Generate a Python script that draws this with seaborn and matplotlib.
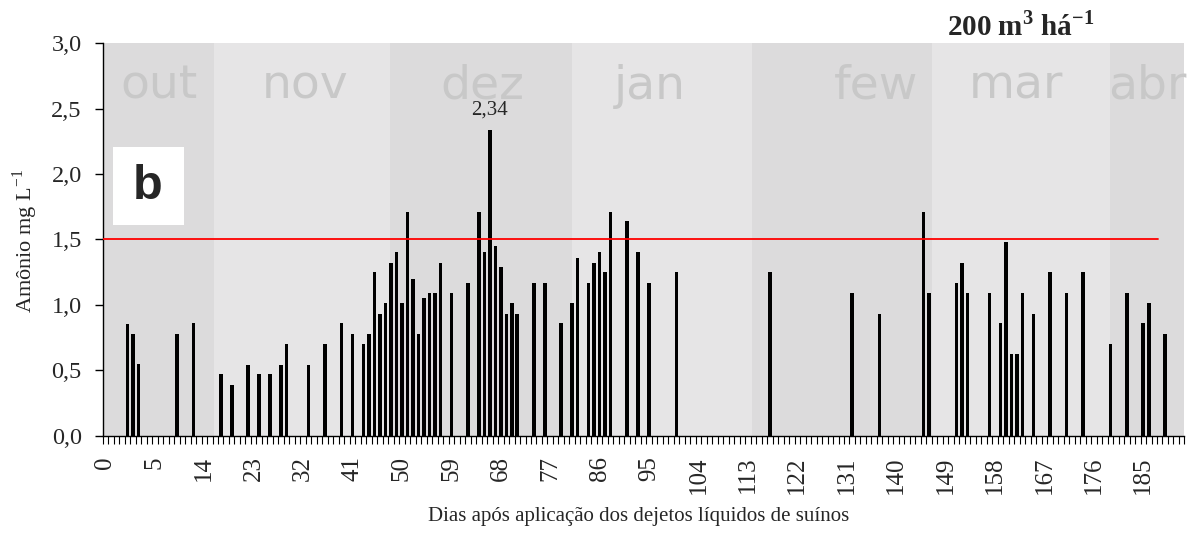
import numpy as np
import pandas as pd
import matplotlib
matplotlib.use("Agg")
import matplotlib.pyplot as plt
from matplotlib.ticker import FuncFormatter
import seaborn as sns

# Sampling slots along the category axis (first slot is -1, one slot per sampling date)
slot = [3, 4, 5, 12, 15, 20, 22, 25, 27, 29, 31, 32, 36, 39, 42, 44, 46, 47, 48, 49,
        50, 51, 52, 53, 54, 55, 56, 57, 58, 59, 60, 62, 65, 67, 68, 69, 70, 71, 72, 73,
        74, 77, 79, 82, 84, 85, 87, 88, 89, 90, 91, 94, 96, 98, 103, 120, 135, 140, 148, 149,
        154, 155, 156, 160, 162, 163, 164, 165, 166, 168, 171, 174, 177, 182, 185, 188, 189, 192]

# Ammonium concentration (mg L-1)
ammonium = [0.85, 0.78, 0.55, 0.78, 0.86, 0.47, 0.39, 0.54, 0.47, 0.47, 0.54, 0.70, 0.54, 0.70, 0.86, 0.78, 0.70, 0.78, 1.25, 0.93,
            1.01, 1.32, 1.40, 1.01, 1.71, 1.20, 0.78, 1.05, 1.09, 1.09, 1.32, 1.09, 1.17, 1.71, 1.40, 2.34, 1.45, 1.29, 0.93, 1.01,
            0.93, 1.17, 1.17, 0.86, 1.01, 1.36, 1.17, 1.32, 1.40, 1.25, 1.71, 1.64, 1.40, 1.17, 1.25, 1.25, 1.09, 0.93, 1.71, 1.09,
            1.17, 1.32, 1.09, 1.09, 0.86, 1.48, 0.62, 0.62, 1.09, 0.93, 1.25, 1.09, 1.25, 0.70, 1.09, 0.86, 1.01, 0.78]

# Day labels shown every 9th slot, starting with the first slot
day_labels = ["0", "5", "14", "23", "32", "41", "50", "59", "68", "77", "86", "95",
              "104", "113", "122", "131", "140", "149", "158", "167", "176", "185"]
first_slot = -1
n_slots = 197
label_step = 9

# Month bands behind the bars
months = ["out", "nov", "dez", "jan", "few", "mar", "abr"]
month_edges = [-1.5, 18.7, 50.9, 84.0, 116.8, 149.5, 182.0, 195.5]
month_label_pos = [8.7, 35.3, 67.7, 98.2, 139.4, 164.9, 188.7]

limit = 1.5            # reference level
limit_end = 190.6      # where the reference line stops

sns.set_theme(style="white")
plt.rcParams["font.family"] = ["Liberation Serif", "DejaVu Serif"]
plt.rcParams["mathtext.fontset"] = "custom"
plt.rcParams["mathtext.rm"] = "Liberation Serif"
plt.rcParams["mathtext.bf"] = "Liberation Serif:bold"

fig = plt.figure(figsize=(11.94, 5.38), dpi=100)
ax = fig.add_axes([0.086, 0.1905, 0.992 - 0.086, 0.9195 - 0.1905])

band_colors = ["#dcdbdc", "#e6e5e6"]
for i, name in enumerate(months):
    ax.axvspan(month_edges[i], month_edges[i + 1], color=band_colors[i % 2], lw=0, zorder=0)
    ax.text(month_label_pos[i], 2.575, name, ha="center", va="baseline",
            fontsize=34, family="DejaVu Sans", color="#c8c8c8", zorder=0.5)

df = pd.DataFrame({"slot": slot, "ammonium": ammonium})
sns.barplot(data=df, x="slot", y="ammonium", native_scale=True, color="black",
            saturation=1, width=0.65, errorbar=None, ax=ax, zorder=2, linewidth=0)

x_lo = first_slot - 0.5
x_hi = first_slot + n_slots - 0.5
ax.plot([x_lo, limit_end], [limit, limit], color="#ff0000", lw=1.3, zorder=3)

# value of the peak
i_max = int(np.argmax(ammonium))
peak = ammonium[i_max]
ax.annotate(f"{peak:.2f}".replace(".", ","), xy=(slot[i_max], peak),
            xytext=(0, 11), textcoords="offset points",
            ha="center", va="baseline", fontsize=15, zorder=4)

ax.set_xlim(x_lo, x_hi)
ax.set_ylim(0, 3.0)

label_pos = [first_slot + label_step * i for i in range(len(day_labels))]
ax.set_xticks(label_pos)
ax.set_xticklabels(day_labels, rotation=90, fontsize=18)
ax.set_xticks(np.arange(x_lo, x_hi + 0.01, 1), minor=True)
ax.tick_params(axis="x", which="major", length=0, pad=15)
ax.tick_params(axis="x", which="minor", direction="out", length=6, width=0.8, color="black", bottom=True)

ax.set_yticks(np.arange(0, 3.01, 0.5))
ax.yaxis.set_major_formatter(FuncFormatter(lambda v, p: f"{v:.1f}".replace(".", ",")))
ax.tick_params(axis="y", which="major", direction="out", length=6, width=1, color="black",
               labelsize=17.5, pad=9, left=True)

for s in ["top", "right"]:
    ax.spines[s].set_visible(False)
for s in ["left", "bottom"]:
    ax.spines[s].set_color("black")
    ax.spines[s].set_linewidth(1.0)

ax.set_xlabel("Dias após aplicação dos dejetos líquidos de suínos", fontsize=15)
ax.xaxis.set_label_coords(0.4955, -0.183)
ax.xaxis.label.set_va("top")
ax.set_ylabel("Amônio mg L$^{-1}$", fontsize=16)
ax.yaxis.set_label_coords(-0.058, 0.496)

# panel letter
ax.add_patch(plt.Rectangle((0.0095, 0.537), 0.0655, 0.199, transform=ax.transAxes,
                           facecolor="white", edgecolor="none", zorder=5))
ax.text(0.042, 0.636, "b", transform=ax.transAxes, ha="center", va="center",
        fontsize=35, fontweight="bold", family="Liberation Sans", zorder=6)

fig.text(0.793, 0.935, r"200 m$^{\mathbf{3}}$ há$^{\mathbf{-1}}$", ha="left", va="baseline",
         fontsize=21, fontweight="bold")

fig.savefig("out.png", dpi=100)
